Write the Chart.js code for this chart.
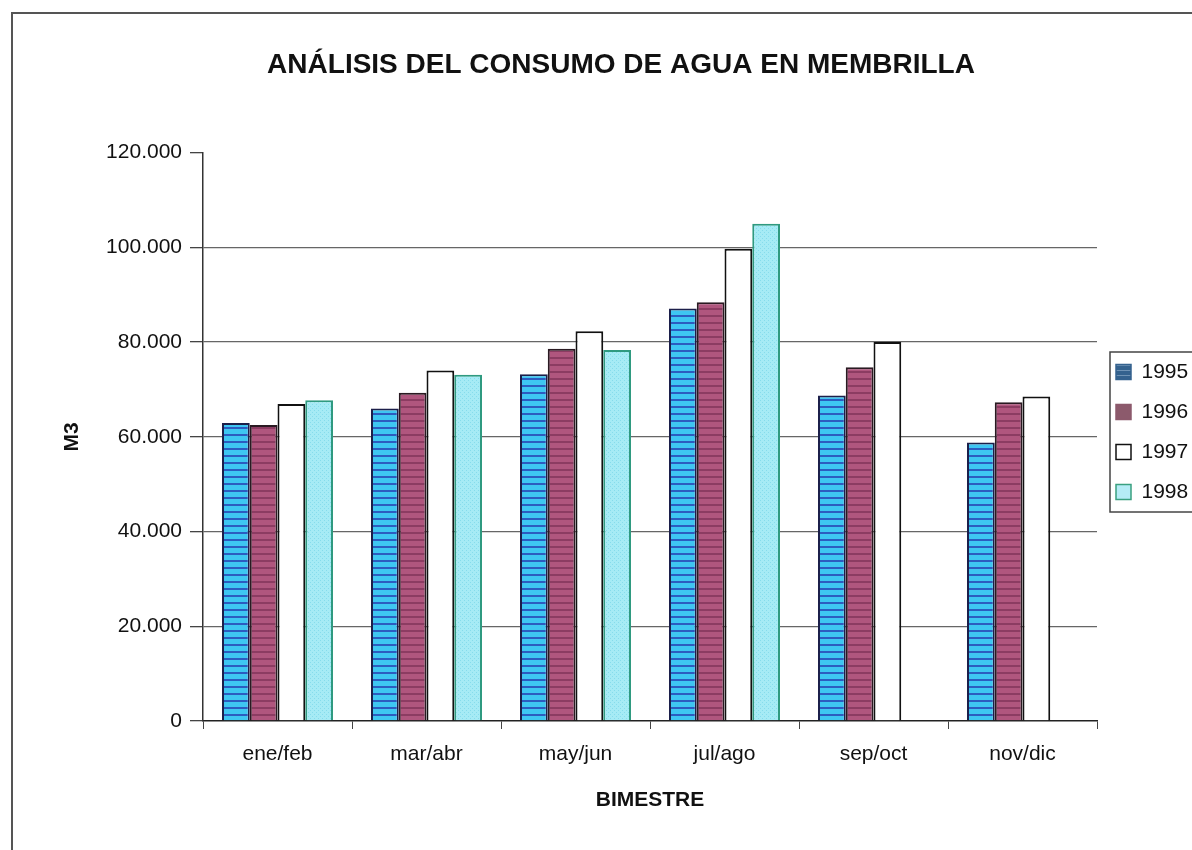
<!DOCTYPE html>
<html><head><meta charset="utf-8">
<script src="https://cdn.jsdelivr.net/npm/chart.js@4.4.1/dist/chart.umd.min.js"></script>
<style>html,body{margin:0;padding:0;background:#fff;overflow:hidden}#wrap{width:1192px;height:850px}</style>
</head><body><div id="wrap"><canvas id="c" width="1192" height="850"></canvas></div>
<script>
const categories = ['ene/feb', 'mar/abr', 'may/jun', 'jul/ago', 'sep/oct', 'nov/dic'];
const seriesNames = ['1995', '1996', '1997', '1998'];
const v1995 = [62900, 66000, 73200, 87100, 68700, 58800];
const v1996 = [62500, 69300, 78600, 88400, 74700, 67300];
const v1997 = [66900, 74000, 82300, 99700, 80000, 68500];
const v1998 = [67700, 73100, 78300, 105000, null, null];
const yTicks = [0, 20000, 40000, 60000, 80000, 100000, 120000];
const titleText = 'ANÁLISIS DEL CONSUMO DE AGUA EN MEMBRILLA';
const xTitle = 'BIMESTRE';
const yTitle = 'M3';

Chart.defaults.font.family = 'Liberation Sans, Arial, sans-serif';
Chart.defaults.color = '#111';

function stripes(base, line, period, thick) {
  const c = document.createElement('canvas');
  c.width = 4; c.height = period;
  const g = c.getContext('2d');
  g.fillStyle = base; g.fillRect(0, 0, 4, period);
  g.fillStyle = line; g.fillRect(0, 0, 4, thick);
  return g.createPattern(c, 'repeat');
}
function dots(base, dot) {
  const c = document.createElement('canvas');
  c.width = 4; c.height = 4;
  const g = c.getContext('2d');
  g.fillStyle = base; g.fillRect(0, 0, 4, 4);
  g.fillStyle = dot; g.fillRect(0, 0, 1, 1); g.fillRect(2, 2, 1, 1);
  return g.createPattern(c, 'repeat');
}
const ctx = document.getElementById('c').getContext('2d');
const fills = [
  stripes('#3ec6f2', '#2c5cc0', 7, 2),
  stripes('#b0567e', '#8c3c62', 7, 2),
  '#ffffff',
  dots('#a6ebf5', '#86dcec')
];
const borders = ['#1c1f4a', '#2a1a22', '#111111', '#2f9a80'];
const swatchFill = [stripes('#34628e', '#6f93b5', 5, 1), '#8c5a6c', '#ffffff', '#b5ecf6'];
const swatchStroke = ['#34628e', '#8c5a6c', '#111111', '#3aa080'];
const seriesData = [v1995, v1996, v1997, v1998];

const framePlugin = {
  id: 'frame',
  beforeDraw(chart) {
    const c = chart.ctx;
    c.save();
    c.fillStyle = '#fff'; c.fillRect(0, 0, chart.width, chart.height);
    c.strokeStyle = '#555'; c.lineWidth = 2;
    c.beginPath(); c.moveTo(1192, 13); c.lineTo(12, 13); c.lineTo(12, 850); c.stroke();
    c.restore();
  },
  afterDraw(chart) {
    const lg = chart.legend;
    if (!lg || !lg.legendHitBoxes.length) return;
    const hb = lg.legendHitBoxes;
    const top = hb[0].top - 9.5, bottom = hb[hb.length - 1].top + hb[hb.length - 1].height + 9.5;
    const left = hb[0].left - 6;
    const c = chart.ctx;
    c.save();
    c.strokeStyle = '#444'; c.lineWidth = 1.5;
    c.strokeRect(left, top, 200, bottom - top);
    c.restore();
  }
};

new Chart(ctx, {
  type: 'bar',
  data: {
    labels: categories,
    datasets: seriesNames.map((n, i) => ({
      label: n, data: seriesData[i],
      backgroundColor: fills[i], borderColor: borders[i], borderWidth: 2,
      borderSkipped: 'bottom'
    }))
  },
  options: {
    responsive: false, animation: false,
    layout: { padding: { left: 50, right: 0, top: 0, bottom: 0 } },
    datasets: { bar: { categoryPercentage: 0.745, barPercentage: 1.0 } },
    plugins: {
      title: { display: true, text: titleText, color: '#111',
        font: { size: 28, weight: 'bold' }, padding: { top: 48, bottom: 71 } },
      legend: {
        position: 'right', align: 'center', maxWidth: 95,
        title: { display: true, text: ' ', font: { size: 10 }, padding: 1 },
        labels: {
          boxWidth: 15, boxHeight: 15, padding: 19, color: '#111', font: { size: 21 },
          generateLabels: () => seriesNames.map((n, i) => ({
            text: n, fillStyle: swatchFill[i], strokeStyle: swatchStroke[i],
            lineWidth: 1.5, hidden: false, datasetIndex: i, fontColor: '#111'
          }))
        }
      },
      tooltip: { enabled: false }
    },
    scales: {
      x: {
        grid: { display: true, drawOnChartArea: false, drawTicks: true, tickLength: 8, color: '#444', offset: true },
        border: { color: '#222', width: 1.5 },
        ticks: { font: { size: 21 }, color: '#111', padding: 13, maxRotation: 0 },
        title: { display: true, text: xTitle, color: '#111', font: { size: 21, weight: 'bold' }, padding: { top: 0, bottom: 37 } },
        afterFit(s) { s.height = 129; }
      },
      y: {
        min: 0, max: 120000,
        afterBuildTicks(s) { s.ticks = yTicks.map(v => ({ value: v })); },
        ticks: { font: { size: 21 }, color: '#111', padding: 8,
          callback: v => v === 0 ? '0' : (v / 1000) + '.000' },
        grid: { lineWidth: 1.3, tickLength: 13, tickColor: '#444',
          color: c => (c.tick && (c.tick.value === 120000 || c.tick.value === 0)) ? 'rgba(0,0,0,0)' : '#666' },
        border: { color: '#333', width: 1.5 },
        title: { display: true, text: yTitle, color: '#111', font: { size: 21, weight: 'bold' }, padding: { top: 10, bottom: 0 } },
        afterFit(s) { s.width = 153; }
      }
    }
  },
  plugins: [framePlugin]
});
</script></body></html>
